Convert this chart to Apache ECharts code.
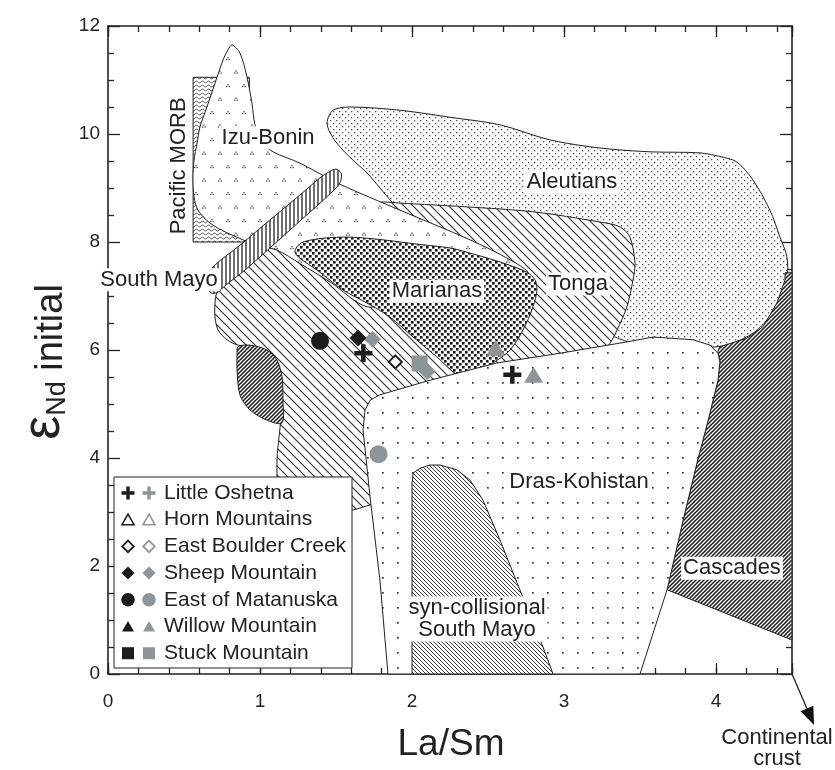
<!DOCTYPE html>
<html>
<head>
<meta charset="utf-8">
<title>εNd initial vs La/Sm</title>
<script src="https://cdn.jsdelivr.net/npm/echarts@6.0.0/dist/echarts.min.js"></script>
<style>
html,body{margin:0;padding:0;background:#ffffff;}
#chart{width:835px;height:770px;}
</style>
</head>
<body>
<div id="chart"></div>
<script>
// ---------------- data ----------------
const xTickLabels = ['0', '1', '2', '3', '4'];
const yTickLabels = ['0', '2', '4', '6', '8', '10', '12'];

// field outlines, in (La/Sm, eNd) data units
const fieldAleutians = [[1.441,10.20],[1.480,10.44],[1.592,10.50],[1.921,10.44],[2.25,10.31],[2.579,10.17],[2.908,9.89],[3.237,9.74],[3.566,9.67],[3.895,9.65],[4.046,9.57],[4.138,9.48],[4.243,9.15],[4.355,8.59],[4.421,8.09],[4.467,7.72],[4.467,7.35],[4.421,6.98],[4.336,6.56],[4.243,6.31],[4.112,6.13],[4.007,6.06],[3.763,6.04],[3.5,6.09],[3.237,6.37],[2.711,7.30],[2.25,8.04],[1.921,8.63],[1.875,8.72],[1.789,9.0],[1.704,9.28],[1.625,9.48],[1.546,9.70],[1.480,9.93]];
const fieldTonga = [[0.717,7.06],[0.868,7.63],[1.066,8.04],[1.395,8.41],[1.724,8.69],[1.809,8.74],[1.921,8.72],[2.362,8.65],[2.796,8.56],[3.237,8.37],[3.368,8.28],[3.434,8.09],[3.467,7.61],[3.454,7.30],[3.414,6.80],[3.349,6.37],[3.303,6.13],[3.237,5.91],[2.579,5.54],[2.053,5.22],[1.822,4.98],[1.757,4.70],[1.757,3.13],[1.724,3.13],[1.612,3.04],[1.263,2.94],[1.118,3.22],[1.112,3.65],[1.112,3.96],[1.118,4.20],[1.132,4.57],[1.138,4.89],[1.099,5.72],[0.967,6.04],[0.855,6.09],[0.783,6.19],[0.724,6.37],[0.704,6.61],[0.704,6.87]];
const fieldPacificMORB = [[0.56,8.0],[0.93,8.0],[0.93,11.05],[0.56,11.05]];
const fieldIzuBonin = [[0.816,11.65],[0.868,11.50],[0.914,11.06],[0.947,10.57],[0.967,10.17],[1.013,9.85],[1.086,9.67],[1.263,9.46],[1.526,9.07],[1.921,8.59],[2.382,8.04],[2.645,7.67],[2.77,7.40],[2.65,7.15],[2.25,7.0],[1.921,6.93],[1.704,6.80],[1.461,7.26],[1.263,7.60],[1.112,7.85],[0.967,7.94],[0.888,8.04],[0.783,8.17],[0.671,8.35],[0.592,8.59],[0.566,8.83],[0.559,9.20],[0.566,9.52],[0.586,9.83],[0.605,10.13],[0.651,10.50],[0.704,10.94],[0.757,11.37],[0.789,11.56]];
const fieldSouthMayo = [[0.658,7.33],[0.691,7.54],[0.868,7.94],[1.066,8.41],[1.263,8.87],[1.395,9.19],[1.461,9.31],[1.5,9.35],[1.533,9.28],[1.533,9.15],[1.513,9.04],[1.395,8.72],[1.263,8.39],[1.066,7.89],[0.901,7.48],[0.770,7.19],[0.717,7.06],[0.671,7.07]];
const fieldMarianas = [[1.243,7.91],[1.283,8.0],[1.414,8.07],[1.592,8.09],[1.809,8.04],[2.033,7.96],[2.25,7.89],[2.362,7.81],[2.579,7.63],[2.757,7.44],[2.809,7.30],[2.822,7.11],[2.796,6.80],[2.730,6.37],[2.645,6.0],[2.533,5.76],[2.428,5.59],[2.336,5.52],[2.283,5.57],[2.164,5.87],[2.007,6.24],[1.855,6.61],[1.704,6.87],[1.546,7.11],[1.375,7.48],[1.263,7.70],[1.230,7.81]];
const fieldSmallHatched = [[0.855,6.06],[0.934,6.09],[1.046,6.0],[1.112,5.81],[1.145,5.5],[1.151,5.07],[1.145,4.65],[1.046,4.70],[0.934,4.89],[0.868,5.17],[0.849,5.63],[0.849,5.91]];
const fieldCascades = [[4.454,7.43],[4.5,7.43],[4.5,0.63],[3.678,1.56],[3.789,2.91],[3.875,3.91],[3.954,4.76],[4.013,5.44],[4.026,5.78],[4.013,5.98],[4.026,6.06],[4.204,6.22],[4.309,6.43],[4.401,6.87],[4.454,7.30]];
const fieldDrasKohistan = [[1.842,0],[1.789,1.74],[1.724,3.28],[1.678,4.52],[1.691,4.89],[1.724,5.07],[1.789,5.17],[2.118,5.44],[2.559,5.76],[2.974,5.94],[3.414,6.15],[3.586,6.24],[3.849,6.19],[3.961,6.09],[4.013,5.94],[4.026,5.78],[4.013,5.44],[3.954,4.76],[3.875,3.91],[3.789,2.91],[3.678,1.56],[3.5,0]];
const fieldSynCollisional = [[2.0,0],[2.0,3.54],[2.007,3.72],[2.053,3.81],[2.118,3.87],[2.184,3.87],[2.296,3.78],[2.382,3.59],[2.467,3.22],[2.579,2.48],[2.691,1.69],[2.862,0.5],[2.928,0]];

// field labels: [text, x, y, rotated]
const fieldLabels = [
  ['Pacific MORB', 0.467, 9.41, true],
  ['Izu-Bonin', 1.053, 9.93, false],
  ['South Mayo', 0.336, 7.30, false],
  ['Aleutians', 3.053, 9.11, false],
  ['Tonga', 3.092, 7.22, false],
  ['Marianas', 2.164, 7.09, false],
  ['Dras-Kohistan', 3.099, 3.56, false],
  ['Cascades', 4.105, 1.96, false],
  ['syn-collisional\nSouth Mayo', 2.428, 1.02, false]
];

// samples
const legendNames = ['Little Oshetna', 'Horn Mountains', 'East Boulder Creek', 'Sheep Mountain', 'East of Matanuska', 'Willow Mountain', 'Stuck Mountain'];
const littleOshetnaBlack = [[1.68, 5.94], [2.66, 5.54]];
const eastBoulderCreekBlack = [[1.89, 5.78]];
const sheepMountainGray = [[1.74, 6.20], [2.10, 5.60]];
const sheepMountainBlack = [[1.645, 6.22]];
const eastOfMatanuskaBlack = [[1.395, 6.17]];
const eastOfMatanuskaGray = [[1.78, 4.07]];
const willowMountainGray = [[2.55, 6.04], [2.80, 5.54]];
const stuckMountainGray = [[2.05, 5.75]];

const continentalArrow = [[4.5, 0], [4.645, -0.944]];

// ---------------- styling ----------------
const FF = '"Liberation Sans", Arial, Helvetica, sans-serif';
const INK = '#222222';
const BLACK = '#1c1c1c';
const GRAY = '#8e9598';

function tile(w, h, draw) {
  const c = document.createElement('canvas');
  c.width = w; c.height = h;
  const g = c.getContext('2d');
  g.fillStyle = '#ffffff';
  g.fillRect(0, 0, w, h);
  draw(g);
  return { image: c, repeat: 'repeat' };
}
const patAleutians = tile(6, 6, g => { g.fillStyle = '#555'; g.fillRect(0, 0, 1.3, 1.3); g.fillRect(3, 3, 1.3, 1.3); });
const patMarianas = tile(6, 6, g => { g.fillStyle = '#1a1a1a'; g.fillRect(0, 0, 2.6, 2.6); g.fillRect(3, 3, 2.6, 2.6); });
const patIzu = tile(16, 27, g => {
  g.fillStyle = '#444';
  const m = (x, y) => { g.fillRect(x + 1.3, y, 1.3, 1.3); g.fillRect(x, y + 1.9, 1.3, 1.3); g.fillRect(x + 2.6, y + 1.9, 1.3, 1.3); };
  m(2, 3); m(10, 16.5);
});
function diag(size, width, color, up) {
  return tile(size, size, g => {
    g.strokeStyle = color; g.lineWidth = width; g.beginPath();
    for (const k of [-size, 0, size]) {
      if (up) { g.moveTo(k - 1, size + 1); g.lineTo(k + size + 1, -1); }
      else { g.moveTo(k - 1, -1); g.lineTo(k + size + 1, size + 1); }
    }
    g.stroke();
  });
}
const patTonga = diag(9, 1.2, '#333', false);
const patCascades = diag(4, 1.5, '#1a1a1a', true);
const patSyn = diag(4, 1.0, '#3a3a3a', false);
const patBand = tile(4, 4, g => { g.strokeStyle = '#333'; g.lineWidth = 1.4; g.beginPath(); g.moveTo(2, 0); g.lineTo(2, 4); g.stroke(); });
const patDras = tile(15, 15, g => { g.fillStyle = '#333'; g.fillRect(7, 7, 1.7, 1.7); });
const patMORB = tile(6, 4, g => {
  g.strokeStyle = '#333'; g.lineWidth = 0.9; g.beginPath();
  for (let x = 0; x <= 6; x += 0.5) { const y = 2 + 0.9 * Math.sin(x / 6 * 2 * Math.PI); if (x === 0) g.moveTo(x, y); else g.lineTo(x, y); }
  g.stroke();
});

function fieldSeries(name, pts, pattern, smooth) {
  return {
    type: 'custom', name, data: pts, silent: true, animation: false,
    renderItem: (params, api) => {
      if (params.dataIndex !== 0) return;
      const points = pts.map(p => api.coord(p));
      return { type: 'polygon', shape: { points, smooth: smooth || 0 }, style: { fill: pattern, stroke: INK, lineWidth: 1 } };
    }
  };
}

const PLUS = 'path://M3,0H5V3H8V5H5V8H3V5H0V3H3Z';

function axisX(pos, major, labels) {
  return {
    type: 'value', position: pos, min: 0, max: 4.5, interval: major ? 1 : 0.2,
    splitLine: { show: false },
    axisLine: { show: major, onZero: false, lineStyle: { color: INK, width: 1.6 } },
    axisTick: { show: true, inside: true, length: major ? 11 : 6, lineStyle: { color: INK, width: 1.3 } },
    axisLabel: {
      show: labels, margin: 18, color: INK, fontSize: 19, fontFamily: FF,
      formatter: v => { const s = String(Math.round(v * 10) / 10); return xTickLabels.includes(s) ? s : ''; }
    }
  };
}
function axisY(pos, labels) {
  return {
    type: 'value', position: pos, min: 0, max: 12, interval: 2,
    splitLine: { show: false },
    axisLine: { show: true, onZero: false, lineStyle: { color: INK, width: 1.6 } },
    axisTick: { show: true, inside: true, length: 12, lineStyle: { color: INK, width: 1.3 } },
    minorTick: { show: true, splitNumber: 4, length: 6, lineStyle: { color: INK, width: 1.3 } },
    axisLabel: {
      show: labels, margin: 8, color: INK, fontSize: 19, fontFamily: FF,
      formatter: v => { const s = String(Math.round(v)); return yTickLabels.includes(s) ? s : ''; }
    }
  };
}

// legend (graphic)
const legendKinds = [['plus', 'plus'], ['triOpen', 'triOpen'], ['diaOpen', 'diaOpen'], ['dia', 'dia'], ['circle', 'circle'], ['tri', 'tri'], ['square', 'square']];
function legendSymbol(kind, color, cx, cy) {
  const z = 101;
  if (kind === 'plus') {
    const a = 6.5, t = 1.7;
    return { type: 'polygon', z, shape: { points: [[cx - t, cy - a], [cx + t, cy - a], [cx + t, cy - t], [cx + a, cy - t], [cx + a, cy + t], [cx + t, cy + t], [cx + t, cy + a], [cx - t, cy + a], [cx - t, cy + t], [cx - a, cy + t], [cx - a, cy - t], [cx - t, cy - t]] }, style: { fill: color } };
  }
  if (kind === 'triOpen' || kind === 'tri') {
    const pts = [[cx, cy - 5.5], [cx + 6, cy + 5], [cx - 6, cy + 5]];
    return kind === 'tri'
      ? { type: 'polygon', z, shape: { points: pts }, style: { fill: color } }
      : { type: 'polygon', z, shape: { points: pts }, style: { fill: '#fff', stroke: color, lineWidth: 1.6 } };
  }
  if (kind === 'diaOpen' || kind === 'dia') {
    const r = kind === 'dia' ? 6.5 : 5.8;
    const pts = [[cx, cy - r], [cx + r, cy], [cx, cy + r], [cx - r, cy]];
    return kind === 'dia'
      ? { type: 'polygon', z, shape: { points: pts }, style: { fill: color } }
      : { type: 'polygon', z, shape: { points: pts }, style: { fill: '#fff', stroke: color, lineWidth: 1.8 } };
  }
  if (kind === 'circle') return { type: 'circle', z, shape: { cx, cy, r: 6.8 }, style: { fill: color } };
  return { type: 'rect', z, shape: { x: cx - 6, y: cy - 6, width: 12, height: 12 }, style: { fill: color } };
}
const legendEls = [{ type: 'rect', z: 100, shape: { x: 114, y: 477, width: 238, height: 191 }, style: { fill: '#fff', stroke: INK, lineWidth: 1 } }];
legendNames.forEach((n, i) => {
  const cy = 493 + i * 26.7;
  legendEls.push(legendSymbol(legendKinds[i][0], BLACK, 128, cy));
  legendEls.push(legendSymbol(legendKinds[i][1], GRAY, 149, cy));
  legendEls.push({ type: 'text', z: 101, x: 164, y: cy, style: { text: n, font: '21px ' + FF, fill: INK, align: 'left', verticalAlign: 'middle' } });
});

const chart = echarts.init(document.getElementById('chart'), null, { renderer: 'canvas', width: 835, height: 770, devicePixelRatio: 1 });
chart.setOption({
  animation: false,
  backgroundColor: '#ffffff',
  grid: { left: 108, right: 43, top: 26, bottom: 96, containLabel: false, outerBoundsMode: 'none' },
  xAxis: [axisX('bottom', true, true), axisX('bottom', false, false), axisX('top', true, false), axisX('top', false, false)],
  yAxis: [axisY('left', true), axisY('right', false)],
  series: [
    fieldSeries('Aleutians', fieldAleutians, patAleutians, 0.3),
    fieldSeries('Tonga', fieldTonga, patTonga, 0.3),
    fieldSeries('Pacific MORB', fieldPacificMORB, patMORB, 0),
    fieldSeries('Izu-Bonin', fieldIzuBonin, patIzu, 0.3),
    fieldSeries('South Mayo', fieldSouthMayo, patBand, 0.3),
    fieldSeries('Marianas', fieldMarianas, patMarianas, 0.3),
    fieldSeries('Hatched', fieldSmallHatched, patCascades, 0.3),
    fieldSeries('Cascades', fieldCascades, patCascades, 0),
    fieldSeries('Dras-Kohistan', fieldDrasKohistan, patDras, 0),
    fieldSeries('syn-collisional South Mayo', fieldSynCollisional, patSyn, 0),
    {
      type: 'custom', name: 'field labels', silent: true, animation: false,
      data: fieldLabels.map(d => [d[1], d[2]]),
      renderItem: (params, api) => {
        const d = fieldLabels[params.dataIndex];
        const p = api.coord([d[1], d[2]]);
        return {
          type: 'text', x: p[0], y: p[1], rotation: d[3] ? Math.PI / 2 : 0, z2: 50,
          style: { text: d[0], font: '22px ' + FF, fill: INK, align: 'center', verticalAlign: 'middle', lineHeight: 22, backgroundColor: '#ffffff', padding: [1, 2, 0, 2] }
        };
      }
    },
    {
      type: 'custom', name: 'continental arrow', silent: true, animation: false, clip: false,
      data: continentalArrow,
      renderItem: (params, api) => {
        if (params.dataIndex !== 0) return;
        const a = api.coord(continentalArrow[0]);
        const b = api.coord(continentalArrow[1]);
        const dx = b[0] - a[0], dy = b[1] - a[1], L = Math.hypot(dx, dy);
        const ux = dx / L, uy = dy / L, hl = 18, hw = 7;
        const bx = b[0] - ux * hl, by = b[1] - uy * hl;
        return {
          type: 'group', children: [
            { type: 'line', shape: { x1: a[0], y1: a[1], x2: bx, y2: by }, style: { stroke: INK, lineWidth: 1.3 } },
            { type: 'polygon', shape: { points: [[b[0], b[1]], [bx - uy * hw, by + ux * hw], [bx + uy * hw, by - ux * hw]] }, style: { fill: '#111' } }
          ]
        };
      }
    },
    { type: 'scatter', name: 'Sheep Mountain (grey)', data: sheepMountainGray, symbol: 'diamond', symbolSize: 17, itemStyle: { color: GRAY, opacity: 1 }, silent: true },
    { type: 'scatter', name: 'Stuck Mountain (grey)', data: stuckMountainGray, symbol: 'rect', symbolSize: 16, itemStyle: { color: GRAY, opacity: 1 }, silent: true },
    { type: 'scatter', name: 'Willow Mountain (grey)', data: willowMountainGray, symbol: 'triangle', symbolSize: [19, 16], itemStyle: { color: GRAY, opacity: 1 }, silent: true },
    { type: 'scatter', name: 'East of Matanuska (grey)', data: eastOfMatanuskaGray, symbol: 'circle', symbolSize: 18, itemStyle: { color: GRAY, opacity: 1 }, silent: true },
    { type: 'scatter', name: 'East of Matanuska', data: eastOfMatanuskaBlack, symbol: 'circle', symbolSize: 18, itemStyle: { color: BLACK, opacity: 1 }, silent: true },
    { type: 'scatter', name: 'Sheep Mountain', data: sheepMountainBlack, symbol: 'diamond', symbolSize: 17, itemStyle: { color: BLACK, opacity: 1 }, silent: true },
    { type: 'scatter', name: 'East Boulder Creek', data: eastBoulderCreekBlack, symbol: 'diamond', symbolSize: 13, itemStyle: { color: '#ffffff', borderColor: BLACK, borderWidth: 2, opacity: 1 }, silent: true },
    { type: 'scatter', name: 'Little Oshetna', data: littleOshetnaBlack, symbol: PLUS, symbolSize: 18, itemStyle: { color: BLACK, opacity: 1 }, silent: true }
  ],
  graphic: {
    elements: [
      {
        type: 'text', x: 44, y: 362, rotation: Math.PI / 2, z: 100,
        style: {
          text: '{e|ε}{n|Nd}{t| initial}', align: 'center', verticalAlign: 'middle', fill: INK,
          rich: {
            e: { fontSize: 54, fontFamily: FF, fill: INK, verticalAlign: 'bottom' },
            n: { fontSize: 27, fontFamily: FF, fill: INK, verticalAlign: 'bottom' },
            t: { fontSize: 38, fontFamily: FF, fill: INK, verticalAlign: 'bottom' }
          }
        }
      },
      { type: 'text', x: 451, y: 745, z: 100, style: { text: 'La/Sm', font: '37px ' + FF, fill: INK, align: 'center', verticalAlign: 'middle' } },
      { type: 'text', x: 777, y: 748, z: 100, style: { text: 'Continental\ncrust', font: '22px ' + FF, fill: INK, align: 'center', verticalAlign: 'middle', lineHeight: 21 } },
      ...legendEls
    ]
  }
});
</script>
</body>
</html>
